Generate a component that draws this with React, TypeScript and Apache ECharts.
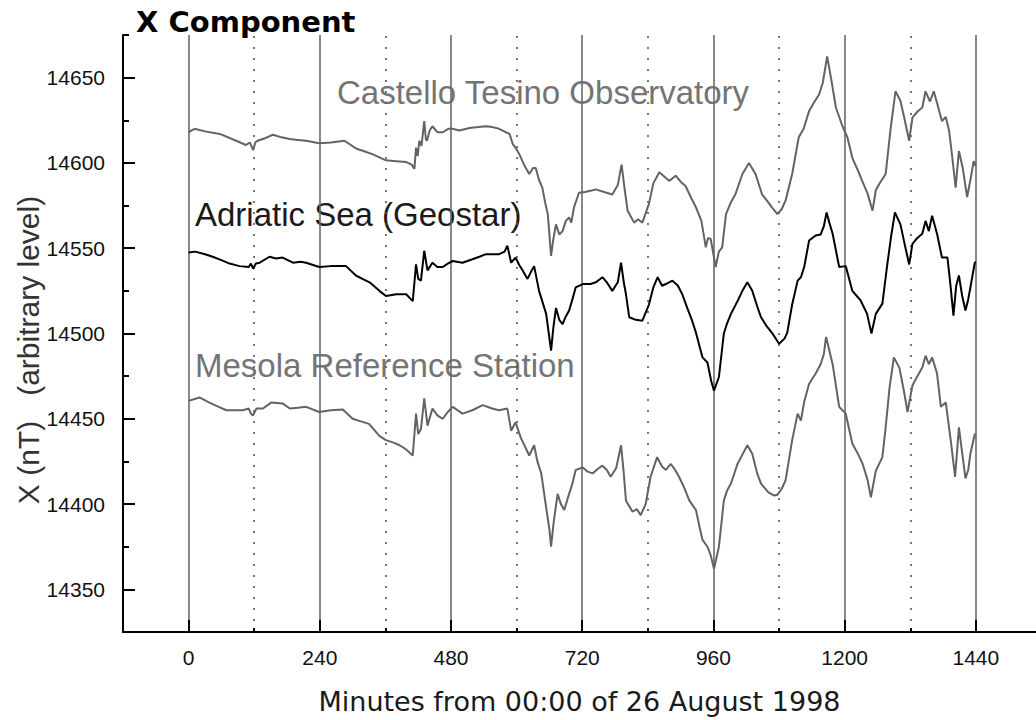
import React, { useEffect, useRef } from "react";
import * as echarts from "echarts";

// Axis tick positions (minutes) and field values (nT)
const MAJOR_MINUTES = [0, 240, 480, 720, 960, 1200, 1440];
const MINOR_MINUTES = [120, 360, 600, 840, 1080, 1320];
const Y_MAJOR_VALUES = [14350, 14400, 14450, 14500, 14550, 14600, 14650];
const Y_MINOR_VALUES = [14375, 14425, 14475, 14525, 14575, 14625, 14675];

// Castello Tesino Observatory
const castelloMinutes = [
  0, 11, 30, 57, 87, 105, 112, 118, 122, 126, 140, 154, 170, 185, 200, 215, 239, 260, 285, 306,
  320, 337, 361, 380, 398, 408, 413, 416, 419, 422, 426, 431, 434, 436, 441, 446, 455, 465, 475, 483,
  495, 514, 530, 544, 556, 568, 580, 587, 593, 600, 605, 615, 623, 630, 635, 641, 647, 652, 657, 663,
  667, 672, 678, 684, 690, 696, 700, 705, 714, 725, 739, 745, 760, 775, 785, 792, 797, 803, 815, 822,
  830, 842, 850, 861, 870, 879, 891, 900, 909, 920, 928, 938, 946, 950, 955, 964, 970, 976, 983, 992,
  1000, 1013, 1025, 1037, 1049, 1060, 1067, 1077, 1085, 1092, 1104, 1116, 1125, 1135, 1145, 1153, 1160, 1168, 1176, 1184,
  1196, 1205, 1214, 1225, 1232, 1242, 1251, 1257, 1263, 1275, 1284, 1293, 1302, 1310, 1318, 1324, 1333, 1342, 1348, 1356,
  1363, 1370, 1378, 1385, 1391, 1397, 1403, 1409, 1416, 1424, 1430, 1436, 1440,
];
const castelloX = [
  14618, 14620, 14618.5, 14617, 14613, 14610.5, 14612, 14607.5, 14612, 14613, 14614.5, 14616.5, 14615, 14614, 14613.5, 14613, 14611.5, 14612, 14613, 14608.5,
  14607, 14605, 14601.5, 14601, 14600.5, 14599, 14596.5, 14609, 14604, 14613, 14610, 14624.5, 14614, 14613, 14619, 14621.5, 14618, 14618, 14620, 14620,
  14619, 14620.5, 14621, 14621.5, 14621, 14620, 14618, 14617, 14611, 14608, 14605, 14598, 14593.5, 14597, 14597, 14590, 14585.5, 14577, 14570, 14545.5,
  14555, 14564, 14558, 14560, 14566, 14568, 14565, 14574, 14582.5, 14583, 14584, 14584.5, 14583, 14581.5, 14587, 14599, 14586, 14572, 14565, 14567,
  14565, 14576, 14588, 14594.5, 14592, 14589.5, 14592.5, 14589, 14586.5, 14579, 14574, 14566, 14550.5, 14556, 14555.5, 14539, 14548, 14550.5, 14570, 14577,
  14581.5, 14593.5, 14600, 14593.5, 14581.5, 14577, 14574, 14570, 14573, 14578, 14593.5, 14615, 14620, 14630.5, 14636, 14640, 14647, 14662.5, 14648, 14632.5,
  14621.5, 14615, 14603, 14595, 14589.5, 14582, 14572, 14584, 14587.5, 14593.5, 14620, 14642, 14636.5, 14625, 14613, 14626.5, 14630, 14632.5, 14642, 14636,
  14642, 14634, 14624.5, 14627, 14619, 14603, 14585.5, 14607, 14597, 14580, 14590, 14601, 14598,
];

// Adriatic Sea (Geostar)
const geostarMinutes = [
  0, 12, 30, 44, 60, 75, 93, 110, 114, 118, 123, 130, 148, 160, 172, 191, 205, 215, 239, 260,
  288, 306, 318, 331, 349, 361, 380, 398, 410, 416, 420, 425, 431, 437, 446, 455, 465, 474, 483, 501,
  519, 532, 544, 568, 578, 583, 590, 598, 605, 611, 620, 626, 632, 641, 654, 663, 667, 672, 678, 684,
  690, 696, 702, 708, 721, 735, 745, 757, 765, 775, 785, 791, 796, 800, 806, 818, 830, 842, 850, 858,
  866, 873, 885, 895, 903, 912, 921, 928, 935, 940, 949, 956, 961, 970, 979, 985, 992, 1004, 1013, 1022,
  1031, 1040, 1047, 1058, 1068, 1080, 1090, 1095, 1104, 1114, 1120, 1126, 1135, 1147, 1156, 1162, 1167, 1172, 1178, 1190,
  1202, 1214, 1229, 1241, 1249, 1257, 1269, 1278, 1285, 1292, 1302, 1310, 1318, 1324, 1333, 1342, 1348, 1354, 1360, 1369,
  1378, 1388, 1393, 1399, 1404, 1409, 1415, 1421, 1426, 1430, 1438, 1440,
];
const geostarX = [
  14547.5, 14548, 14546.5, 14545, 14543, 14541, 14539.5, 14539, 14541, 14538, 14541, 14541.5, 14545, 14544, 14544.5, 14541.5, 14542, 14541.5, 14539, 14539.5,
  14539.5, 14534, 14532, 14530, 14525, 14522, 14523, 14523, 14519, 14540.5, 14532, 14531, 14548.5, 14537, 14541.5, 14539, 14539, 14541, 14542.5, 14541.5,
  14543.5, 14545, 14546.5, 14546.5, 14548, 14551.5, 14541.5, 14544.5, 14540, 14537, 14532, 14536, 14539.5, 14525, 14511.5, 14490, 14503, 14515, 14508, 14505.5,
  14510, 14513.5, 14520, 14527, 14529, 14529, 14530, 14533, 14530, 14525, 14530, 14541.5, 14530, 14523, 14509.5, 14508, 14507.5, 14517, 14527, 14533,
  14528, 14529, 14531, 14528, 14523, 14515, 14507.5, 14500.5, 14492, 14486, 14483, 14472, 14466.5, 14474.5, 14500, 14506, 14511.5, 14519, 14525, 14530,
  14525, 14516, 14509.5, 14504, 14500, 14494, 14497, 14500.5, 14517, 14531, 14533, 14539, 14554.5, 14557.5, 14558, 14563, 14571, 14565, 14558.5, 14539,
  14539.5, 14525, 14519.5, 14511.5, 14500, 14511.5, 14517.5, 14540.5, 14557, 14571, 14564, 14552, 14540.5, 14552.5, 14556, 14558.5, 14566, 14560, 14569, 14558.5,
  14544.5, 14544.5, 14530, 14510.5, 14528, 14534, 14522, 14513.5, 14520, 14527, 14541.5, 14542,
];

// Mesola Reference Station
const mesolaMinutes = [
  0, 20, 38, 55, 69, 99, 110, 114, 118, 124, 136, 151, 172, 185, 200, 215, 239, 260, 282, 300,
  315, 330, 349, 361, 375, 386, 398, 410, 416, 420, 425, 431, 437, 446, 455, 465, 474, 483, 501, 519,
  538, 555, 568, 583, 590, 598, 608, 615, 623, 632, 638, 645, 654, 660, 663, 668, 675, 681, 687, 696,
  702, 708, 721, 730, 739, 750, 757, 765, 772, 782, 791, 796, 800, 812, 820, 827, 836, 845, 857, 866,
  873, 882, 890, 897, 906, 916, 928, 935, 940, 949, 955, 961, 970, 979, 985, 992, 1004, 1013, 1022, 1031,
  1040, 1047, 1060, 1071, 1077, 1085, 1092, 1104, 1114, 1120, 1126, 1135, 1147, 1156, 1162, 1166, 1172, 1178, 1190, 1202,
  1214, 1225, 1233, 1242, 1248, 1257, 1269, 1275, 1282, 1290, 1300, 1308, 1315, 1324, 1333, 1342, 1348, 1354, 1360, 1369,
  1376, 1385, 1394, 1402, 1409, 1415, 1421, 1426, 1430, 1438, 1440,
];
const mesolaX = [
  14460.5, 14462.5, 14459.5, 14457, 14455, 14455, 14456, 14453, 14452, 14456, 14456, 14459.5, 14459, 14456, 14456.5, 14457, 14454, 14455, 14455.5, 14450,
  14448.5, 14447, 14440, 14437.5, 14436, 14434.5, 14432, 14428.5, 14453, 14441, 14444, 14462, 14446, 14456, 14452, 14450, 14454, 14457, 14453, 14455,
  14458, 14456, 14455, 14456, 14443, 14448, 14438.5, 14434, 14428.5, 14434.5, 14425, 14418, 14398, 14385, 14375, 14390, 14406, 14400, 14396.5, 14406,
  14412, 14420, 14421.5, 14419, 14418, 14421, 14422.5, 14420, 14416, 14421, 14434.5, 14418, 14402, 14395.5, 14397, 14393.5, 14400, 14416, 14427.5, 14422,
  14420, 14423.5, 14420, 14416, 14410, 14402, 14396.5, 14386, 14379, 14375, 14370, 14362, 14375, 14402, 14408, 14412, 14423.5, 14429, 14434.5, 14429.5,
  14418, 14412, 14407, 14405, 14405.5, 14409, 14414, 14437.5, 14453, 14449, 14460, 14470.5, 14476.5, 14482, 14488, 14498, 14490, 14482, 14457, 14453,
  14435.5, 14429, 14423.5, 14414, 14404, 14419.5, 14427.5, 14445, 14468, 14486, 14480, 14467, 14454, 14469.5, 14475, 14480, 14487, 14482, 14486, 14476.5,
  14457, 14459.5, 14437.5, 14416, 14445, 14430, 14415, 14420, 14429.5, 14441, 14441,
];

const pairUp = (minutes: number[], values: number[]) => minutes.map((m, i) => [m, values[i]]);

const GRAY = "#636363";
const LABEL_GRAY = "#747474";

export default function App() {
  const ref = useRef<HTMLDivElement>(null);

  useEffect(() => {
    if (!ref.current) return;
    const chart = echarts.init(ref.current, undefined, { renderer: "svg" });

    const tickFont = { fontFamily: "Liberation Sans", fontSize: 21, color: "#111" };

    const option = {
      animation: false,
      backgroundColor: "#ffffff",
      textStyle: { fontFamily: "Liberation Sans" },
      grid: { left: 123, right: 0, top: 35, bottom: 88, containLabel: false },
      xAxis: [
        {
          type: "value",
          min: -120,
          max: 1550,
          position: "bottom",
          z: 4,
          axisLine: { show: true, onZero: false, lineStyle: { color: "#000", width: 2 } },
          axisTick: {
            show: true,
            inside: true,
            length: 12,
            customValues: MAJOR_MINUTES,
            lineStyle: { color: "#000", width: 2 },
          },
          axisLabel: {
            ...tickFont,
            customValues: MAJOR_MINUTES,
            margin: 15,
            formatter: (v: number) => String(v),
          },
          splitLine: { show: false },
          name: "Minutes from 00:00 of 26 August 1998",
          nameLocation: "middle",
          nameGap: 56,
          nameTextStyle: { fontFamily: "DejaVu Sans", fontSize: 27, color: "#1a1a1a" },
        },
        {
          type: "value",
          min: -120,
          max: 1550,
          position: "bottom",
          z: 4,
          axisLine: { show: false, onZero: false },
          axisTick: {
            show: true,
            inside: true,
            length: 4,
            customValues: MINOR_MINUTES,
            lineStyle: { color: "#000", width: 2 },
          },
          axisLabel: { show: false },
          splitLine: { show: false },
        },
      ],
      yAxis: [
        {
          type: "value",
          min: 14325,
          max: 14675,
          position: "left",
          z: 4,
          axisLine: { show: true, onZero: false, lineStyle: { color: "#000", width: 2 } },
          axisTick: {
            show: true,
            inside: true,
            length: 12,
            customValues: Y_MAJOR_VALUES,
            lineStyle: { color: "#000", width: 2 },
          },
          axisLabel: {
            ...tickFont,
            customValues: Y_MAJOR_VALUES,
            margin: 18,
            formatter: (v: number) => String(v),
          },
          splitLine: { show: false },
        },
        {
          type: "value",
          min: 14325,
          max: 14675,
          position: "left",
          z: 4,
          axisLine: { show: false, onZero: false },
          axisTick: {
            show: true,
            inside: true,
            length: 6,
            customValues: Y_MINOR_VALUES,
            lineStyle: { color: "#000", width: 2 },
          },
          axisLabel: { show: false },
          splitLine: { show: false },
        },
      ],
      graphic: [
        {
          type: "text",
          x: 136,
          y: 22,
          silent: true,
          style: {
            text: "X Component",
            fontFamily: "DejaVu Sans",
            fontWeight: "bold",
            fontSize: 29,
            fill: "#000",
            textAlign: "left",
            textVerticalAlign: "middle",
          },
        },
        {
          type: "text",
          x: 28,
          y: 350,
          rotation: Math.PI / 2,
          silent: true,
          style: {
            text: "X (nT)   (arbitrary level)",
            fontFamily: "Liberation Sans",
            fontSize: 30,
            fill: "#333",
            textAlign: "center",
            textVerticalAlign: "middle",
          },
        },
        {
          type: "text",
          x: 337,
          y: 92,
          silent: true,
          style: {
            text: "Castello Tesino Observatory",
            fontFamily: "Liberation Sans",
            fontSize: 33,
            fill: LABEL_GRAY,
            textAlign: "left",
            textVerticalAlign: "middle",
          },
        },
        {
          type: "text",
          x: 195,
          y: 214,
          silent: true,
          style: {
            text: "Adriatic Sea (Geostar)",
            fontFamily: "Liberation Sans",
            fontSize: 33,
            fill: "#1a1a1a",
            textAlign: "left",
            textVerticalAlign: "middle",
          },
        },
        {
          type: "text",
          x: 195,
          y: 365,
          silent: true,
          style: {
            text: "Mesola Reference Station",
            fontFamily: "Liberation Sans",
            fontSize: 33,
            fill: LABEL_GRAY,
            textAlign: "left",
            textVerticalAlign: "middle",
          },
        },
      ],
      series: [
        {
          // hour grid: solid every 4 h, dotted at the 2 h marks in between
          type: "line",
          name: "hours",
          data: [],
          z: 1,
          silent: true,
          markLine: {
            silent: true,
            z: 1,
            animation: false,
            symbol: ["none", "none"],
            label: { show: false },
            emphasis: { disabled: true },
            data: [
              ...MAJOR_MINUTES.map((m) => ({
                xAxis: m,
                lineStyle: { type: "solid", color: "#6b6b6b", width: 1.6 },
              })),
              ...MINOR_MINUTES.map((m) => ({
                xAxis: m,
                lineStyle: { type: [2, 9], color: "#555", width: 1.6 },
              })),
            ],
          },
        },
        {
          type: "line",
          name: "Castello Tesino Observatory",
          data: pairUp(castelloMinutes, castelloX),
          showSymbol: false,
          symbol: "none",
          z: 3,
          silent: true,
          lineStyle: { color: GRAY, width: 2 },
        },
        {
          type: "line",
          name: "Adriatic Sea (Geostar)",
          data: pairUp(geostarMinutes, geostarX),
          showSymbol: false,
          symbol: "none",
          z: 3,
          silent: true,
          lineStyle: { color: "#000", width: 2 },
        },
        {
          type: "line",
          name: "Mesola Reference Station",
          data: pairUp(mesolaMinutes, mesolaX),
          showSymbol: false,
          symbol: "none",
          z: 3,
          silent: true,
          lineStyle: { color: GRAY, width: 2 },
        },
      ],
    };

    chart.setOption(option as any);
    return () => chart.dispose();
  }, []);

  return (
    <div
      ref={ref}
      style={{ position: "absolute", left: 0, top: 0, width: 1036, height: 720, background: "#fff" }}
    />
  );
}
